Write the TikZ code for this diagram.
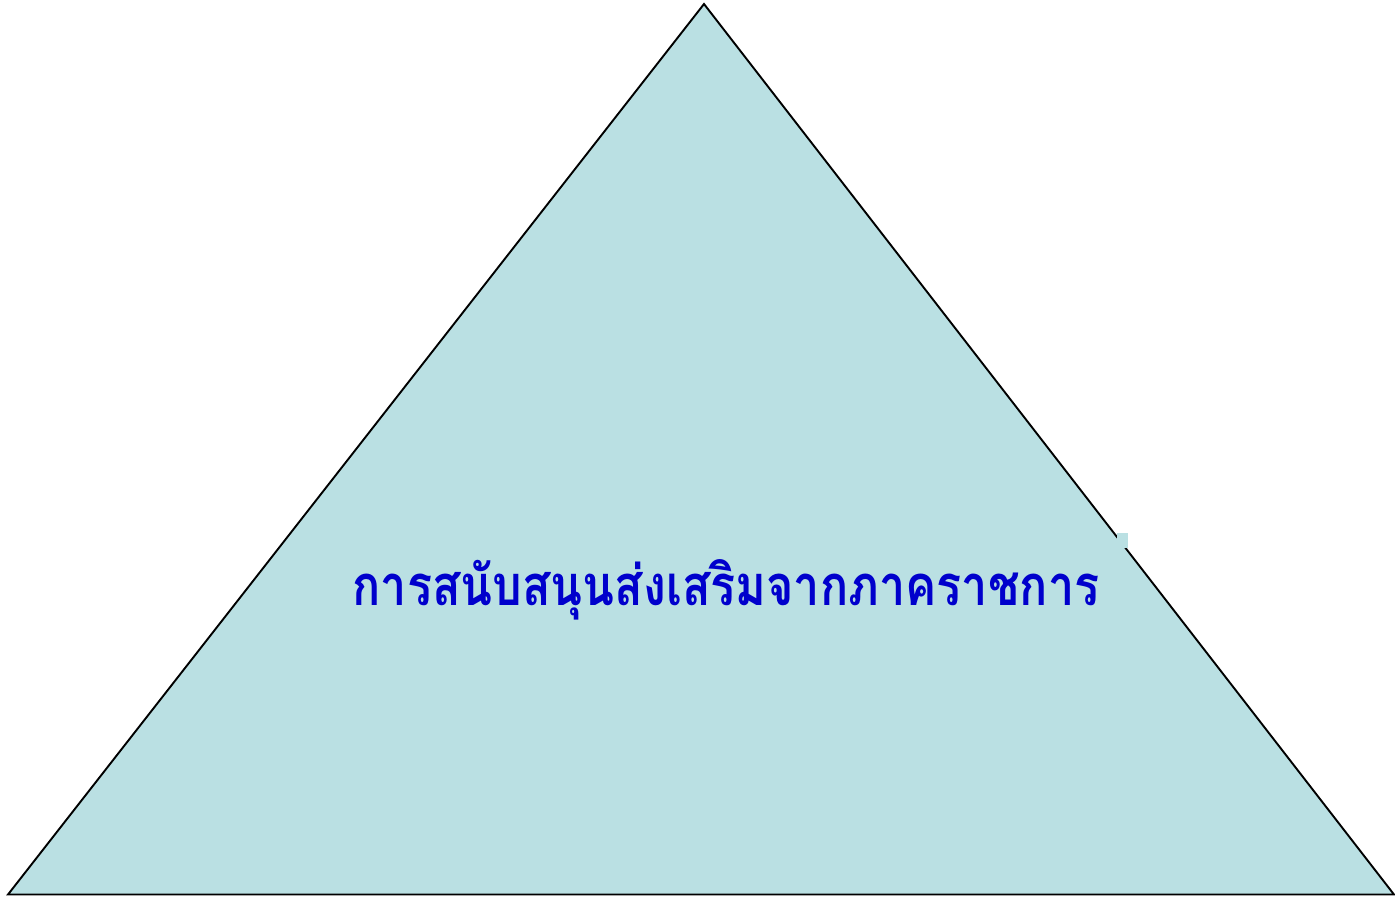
\documentclass[tikz,border=0pt]{standalone}
\usepackage{fontspec}
\newfontfamily\thaifont[Script=Thai]{Loma}
\definecolor{tri}{HTML}{BAE0E3}
\definecolor{txt}{HTML}{0000CC}
\begin{document}
\begin{tikzpicture}[x=1pt,y=-1pt,
  tribox/.style={draw=black,line width=1.9pt,fill=tri,line join=miter},
  label/.style={text=txt,inner sep=0pt,font=\thaifont\bfseries}]
\useasboundingbox (0,0) rectangle (1395,897);
\coordinate (apex) at (704,4);
\coordinate (bl) at (8,894.5);
\coordinate (br) at (1394,894.5);
\draw[tribox] (apex) -- (br) -- (bl) -- cycle;
\fill[tri] (1117,533) rectangle (1128,548);
\node[label,anchor=base] (t) at (726,605) {\scalebox{1}[1.2]{\resizebox{747pt}{!}{การสนับสนุนส่งเสริมจากภาคราชการ}}};
\end{tikzpicture}
\end{document}
